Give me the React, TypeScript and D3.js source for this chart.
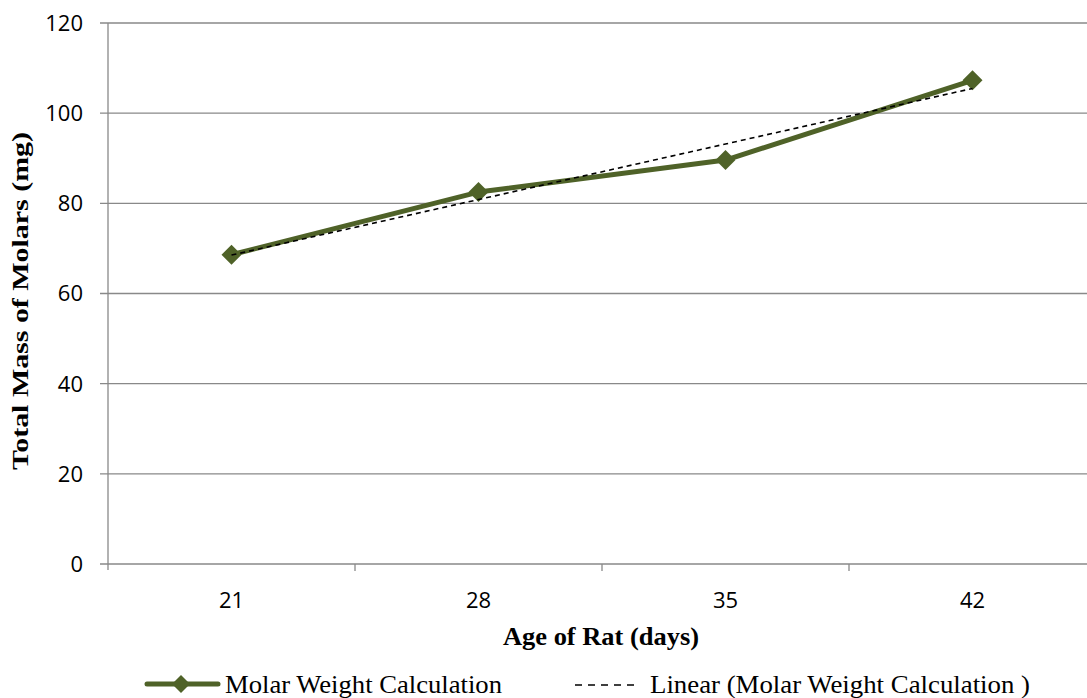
import React from "react";
import * as d3 from "d3";

const categories = ["21", "28", "35", "42"];
const massValues = [68.6, 82.5, 89.6, 107.3];
const yTicks = [0, 20, 40, 60, 80, 100, 120];

const W = 1087;
const H = 698;
const M = { left: 108, top: 23, bottom: 564 };
const bandW = 247;

export default function App() {
  const x = d3
    .scaleBand<string>()
    .domain(categories)
    .range([M.left, M.left + bandW * categories.length])
    .paddingInner(0)
    .paddingOuter(0);
  const y = d3.scaleLinear().domain([0, 120]).range([M.bottom, M.top]);
  const cx = (c: string) => (x(c) as number) + x.bandwidth() / 2;

  // linear regression trendline
  const xs = massValues.map((_, i) => i + 1);
  const mx = d3.mean(xs) as number;
  const my = d3.mean(massValues) as number;
  const slope =
    d3.sum(xs.map((xv, i) => (xv - mx) * (massValues[i] - my))) /
    d3.sum(xs.map((xv) => (xv - mx) ** 2));
  const intercept = my - slope * mx;
  const trend = xs.map((xv) => intercept + slope * xv);

  const line = d3
    .line<number>()
    .x((_, i) => cx(categories[i]))
    .y((d) => y(d));

  const diamond = (px: number, py: number, r: number) =>
    `M${px},${py - r}L${px + r},${py}L${px},${py + r}L${px - r},${py}Z`;

  const green = "#4F6228";
  const grid = "#898989";
  const serif = "Liberation Serif, Times New Roman, serif";
  const sans = "Open Sans, Lato, sans-serif";

  return (
    <svg width={W} height={H} style={{ position: "absolute", left: 0, top: 0 }}>
      <rect x={0} y={0} width={W} height={H} fill="#fff" />
      {yTicks.map((t) => (
        <g key={t}>
          <line x1={100} x2={W} y1={y(t)} y2={y(t)} stroke={grid} strokeWidth={1.3} />
          <text x={83} y={y(t)} dy="0.36em" textAnchor="end" fontFamily={sans} fontSize={22} fill="#000">
            {t}
          </text>
        </g>
      ))}
      <line x1={M.left} x2={M.left} y1={M.top} y2={M.bottom + 6} stroke={grid} strokeWidth={1.3} />
      {categories.slice(1).map((c) => (
        <line
          key={c}
          x1={x(c) as number}
          x2={x(c) as number}
          y1={M.bottom}
          y2={M.bottom + 7}
          stroke={grid}
          strokeWidth={1.3}
        />
      ))}
      {categories.map((c) => (
        <text key={c} x={cx(c)} y={600} dy="0.36em" textAnchor="middle" fontFamily={sans} fontSize={22} fill="#000">
          {c}
        </text>
      ))}
      <text
        x={503}
        y={645}
        textLength={196}
        lengthAdjust="spacingAndGlyphs"
        fontFamily={serif}
        fontWeight="bold"
        fontSize={25}
      >
        Age of Rat (days)
      </text>
      <text
        transform={`translate(28,${470}) rotate(-90)`}
        textLength={338}
        lengthAdjust="spacingAndGlyphs"
        fontFamily={serif}
        fontWeight="bold"
        fontSize={24}
      >
        Total Mass of Molars (mg)
      </text>

      <path d={line(massValues) as string} fill="none" stroke={green} strokeWidth={5} strokeLinejoin="round" />
      {massValues.map((v, i) => (
        <path key={i} d={diamond(cx(categories[i]), y(v), 10)} fill={green} />
      ))}
      <path d={line(trend) as string} fill="none" stroke="#000" strokeWidth={1.6} strokeDasharray="5,4" />

      {/* legend */}
      <line x1={147} x2={218} y1={684} y2={684} stroke={green} strokeWidth={5} strokeLinecap="round" />
      <path d={diamond(181, 684, 9)} fill={green} />
      <text x={225} y={693} textLength={277} lengthAdjust="spacingAndGlyphs" fontFamily={serif} fontSize={26}>
        Molar Weight Calculation
      </text>
      <line x1={575} x2={636} y1={685} y2={685} stroke="#000" strokeWidth={1.4} strokeDasharray="7,6" />
      <text x={650} y={693} textLength={380} lengthAdjust="spacingAndGlyphs" fontFamily={serif} fontSize={26}>
        Linear (Molar Weight Calculation )
      </text>
    </svg>
  );
}
